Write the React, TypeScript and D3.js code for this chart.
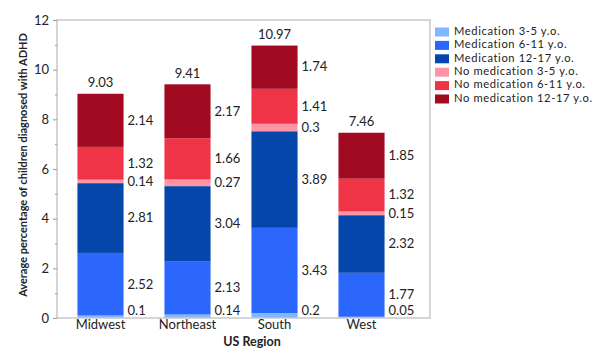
import * as d3 from "d3";
import { useEffect, useRef } from "react";

const regions = ["Midwest", "Northeast", "South", "West"];
const seriesNames = [
  "Medication 3-5 y.o.",
  "Medication 6-11 y.o.",
  "Medication 12-17 y.o.",
  "No medication 3-5 y.o.",
  "No medication 6-11 y.o.",
  "No medication 12-17 y.o.",
];
const colors = ["#80b8ff", "#2c67fd", "#0446a9", "#ff94a6", "#ef3448", "#a10a20"];

// one value per region, series listed bottom to top
const med35 = [0.1, 0.14, 0.2, 0.05];
const med611 = [2.52, 2.13, 3.43, 1.77];
const med1217 = [2.81, 3.04, 3.89, 2.32];
const noMed35 = [0.14, 0.27, 0.3, 0.15];
const noMed611 = [1.32, 1.66, 1.41, 1.32];
const noMed1217 = [2.14, 2.17, 1.74, 1.85];
const totals = ["9.03", "9.41", "10.97", "7.46"];

const yTicks = [0, 2, 4, 6, 8, 10, 12];

const App = () => {
  const svgRef = useRef<SVGSVGElement | null>(null);

  useEffect(() => {
    const svg = d3.select(svgRef.current);
    svg.selectAll("*").remove();

    const font = "Lato, 'Open Sans', sans-serif";
    const fs = 13;
    const left = 57, right = 430, top = 20, bottom = 318;

    const series = [med35, med611, med1217, noMed35, noMed611, noMed1217];
    const rows = regions.map((r, i) => {
      const row: any = { region: r };
      seriesNames.forEach((s, j) => (row[s] = series[j][i]));
      return row;
    });
    const stacked = d3.stack().keys(seriesNames)(rows);

    const x = d3.scaleBand().domain(regions).range([left, left + 4 * 87]).paddingInner(0.47).paddingOuter(0.235);
    const y = d3.scaleLinear().domain([0, 12]).range([bottom, top]);

    // bars + segment labels
    stacked.forEach((layer, j) => {
      const g = svg.append("g").attr("fill", colors[j]);
      layer.forEach((d: any, i) => {
        g.append("rect")
          .attr("x", x(regions[i])!)
          .attr("width", x.bandwidth())
          .attr("y", y(d[1]))
          .attr("height", y(d[0]) - y(d[1]));
        svg.append("text")
          .attr("x", x(regions[i])! + x.bandwidth() + 4)
          .attr("y", Math.min(y((d[0] + d[1]) / 2) + 1, bottom - 6))
          .attr("dominant-baseline", "middle")
          .attr("font-family", font)
          .attr("font-size", fs)
          .attr("fill", "#222")
          .text(String(series[j][i]));
      });
    });

    // totals
    const topLayer = stacked[stacked.length - 1];
    topLayer.forEach((d: any, i) => {
      svg.append("text")
        .attr("x", x(regions[i])! + x.bandwidth() / 2)
        .attr("y", y(d[1]) - 10)
        .attr("text-anchor", "middle")
        .attr("dominant-baseline", "middle")
        .attr("font-family", font)
        .attr("font-size", fs)
        .attr("fill", "#222")
        .text(totals[i]);
    });

    // frame
    svg.append("rect")
      .attr("x", left).attr("y", top)
      .attr("width", right - left).attr("height", bottom - top)
      .attr("fill", "none").attr("stroke", "#c8c8c8").attr("stroke-width", 1.5);

    // y axis
    const axis = svg.append("g")
      .attr("transform", `translate(${left},0)`)
      .call(d3.axisLeft(y).tickValues(yTicks).tickSize(4).tickPadding(4));
    axis.select(".domain").remove();
    axis.selectAll("line").attr("stroke", "#999");
    axis.selectAll("text").attr("font-family", font).attr("font-size", fs).attr("fill", "#222");
    svg.append("g")
      .attr("transform", `translate(${left},0)`)
      .call(d3.axisLeft(y).tickValues(d3.range(1, 12, 2)).tickSize(2).tickFormat(() => ""))
      .call((g) => g.select(".domain").remove())
      .selectAll("line").attr("stroke", "#999");

    // x labels
    regions.forEach((r) => {
      svg.append("text")
        .attr("x", x(r)! + x.bandwidth() / 2)
        .attr("y", 326)
        .attr("text-anchor", "middle")
        .attr("dominant-baseline", "middle")
        .attr("font-family", font)
        .attr("font-size", fs)
        .attr("fill", "#222")
        .text(r);
    });

    // axis titles
    svg.append("text")
      .attr("x", 252).attr("y", 343)
      .attr("text-anchor", "middle").attr("dominant-baseline", "middle")
      .attr("font-family", font).attr("font-size", 12.5).attr("font-weight", "bold")
      .attr("fill", "#222")
      .text("US Region");
    svg.append("text")
      .attr("transform", `translate(24,${(33 + 297) / 2}) rotate(-90)`)
      .attr("text-anchor", "middle").attr("dominant-baseline", "middle")
      .attr("font-family", font).attr("font-size", 11).attr("font-weight", "bold")
      .attr("fill", "#222")
      .text("Average percentage of children diagnosed with ADHD");

    // legend
    const legend = svg.append("g").attr("transform", "translate(435,32)");
    seriesNames.forEach((s, j) => {
      legend.append("rect")
        .attr("x", 0).attr("y", j * 13.4 - 4.5)
        .attr("width", 14).attr("height", 9)
        .attr("fill", colors[j]);
      legend.append("text")
        .attr("x", 19).attr("y", j * 13.4)
        .attr("dominant-baseline", "middle")
        .attr("font-family", font).attr("font-size", 11.2)
        .attr("letter-spacing", 0.6)
        .attr("fill", "#222")
        .text(s);
    });
  }, []);

  return (
    <div style={{ position: "absolute", left: 0, top: 0 }}>
      <svg ref={svgRef} width={600} height={363} style={{ display: "block", background: "#fff" }}></svg>
    </div>
  );
};

export default App;
